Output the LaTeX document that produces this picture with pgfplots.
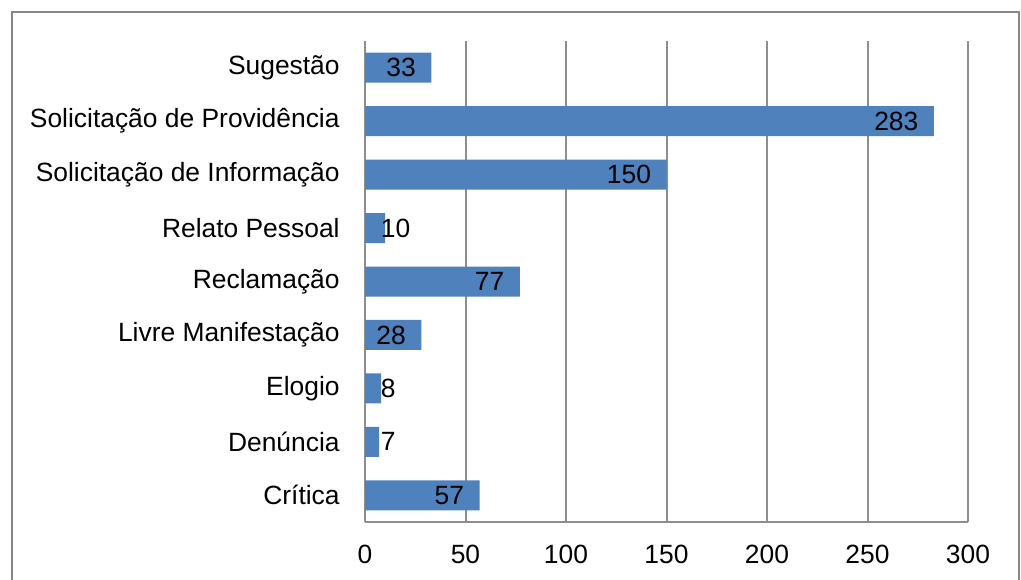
\documentclass[border=0pt]{standalone}
\usepackage{pgfplots}
\pgfplotsset{compat=1.18}
\usepackage{fontspec}
\setmainfont{Liberation Sans}
\definecolor{barblue}{HTML}{4F81BD}
\definecolor{gridgray}{HTML}{8E8E8E}
\definecolor{framegray}{HTML}{878787}
\begin{document}
\begin{tikzpicture}[x=1pt,y=1pt]
\useasboundingbox (0,0) rectangle (510.5,289.5);
\draw[framegray, line width=1pt] (6,-5) -- (6,283.5) -- (509.5,283.5) -- (509.5,-5);
\begin{axis}[
  at={(182.5pt,28.5pt)}, anchor=south west,
  scale only axis, width=301.5pt, height=240.5pt,
  xmin=0, xmax=300, ymin=-0.5, ymax=8.5,
  axis x line*=bottom, axis y line*=left,
  axis line style={gridgray, line width=1pt},
  xtick={0,50,...,300},
  ytick={0,...,8},
  yticklabels={Crítica,Denúncia,Elogio,Livre Manifestação,Reclamação,Relato Pessoal,Solicitação de Informação,Solicitação de Providência,Sugestão},
  xmajorgrids,
  major grid style={gridgray, line width=1pt},
  major tick length=0pt,
  /pgf/number format/assume math mode=true,
  tick label style={font=\fontsize{13.2}{16}\selectfont, text=black},
  xticklabel style={inner sep=0pt, anchor=north, yshift=-11.5pt},
  yticklabel style={inner sep=0pt, anchor=east, xshift=-12.5pt},
  clip=false,
]
\addplot[xbar, bar width=15pt, fill=barblue, draw=none] coordinates {
  (57,0) (7,1) (8,2) (28,3) (77,4) (10,5) (150,6) (283,7) (33,8)
};
\addplot[only marks, mark=none, nodes near coords, point meta=explicit symbolic,
  nodes near coords style={anchor=east, inner sep=0pt, font=\fontsize{13.2}{16}\selectfont, text=black}]
  coordinates {
  (49.5,0) [57] (20.5,3) [28] (69.5,4) [77] (142.5,6) [150] (275.5,7) [283] (25.5,8) [33]
};
\addplot[only marks, mark=none, nodes near coords, point meta=explicit symbolic,
  nodes near coords style={anchor=west, inner sep=0pt, font=\fontsize{13.2}{16}\selectfont, text=black}]
  coordinates {
  (7.7,1) [7] (7.7,2) [8] (7.7,5) [10]
};
\end{axis}
\end{tikzpicture}
\end{document}
